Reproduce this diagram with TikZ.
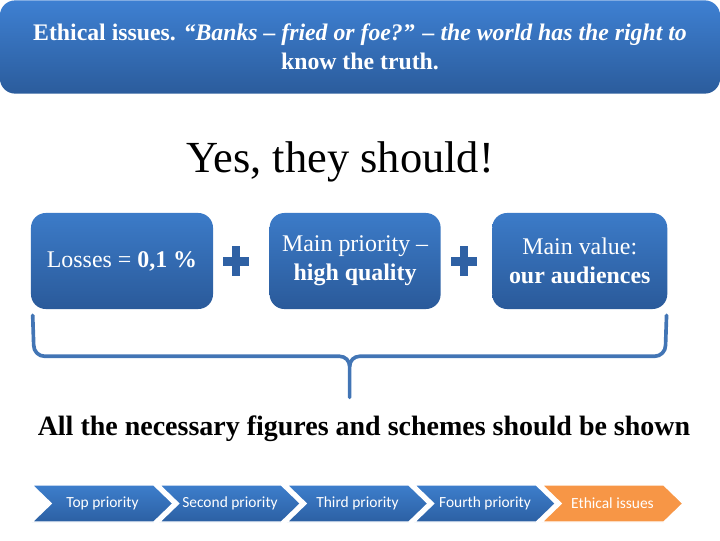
\documentclass[tikz,border=0pt]{standalone}
\usepackage{fontspec}
\setmainfont{Liberation Serif}
\newfontfamily\calibfont{Carlito}
\usetikzlibrary{positioning, calc, shapes.symbols}
\definecolor{BarTop}    {HTML}{3E80D2}
\definecolor{BarBot}    {HTML}{2B5C9C}
\definecolor{BoxTop}    {HTML}{3C7BC8}
\definecolor{BoxBot}    {HTML}{2A5A9A}
\definecolor{PlusBlue}  {HTML}{2F61A4}
\definecolor{BraceBlue} {HTML}{4275B5}
\definecolor{ChevTop}   {HTML}{3D7ECC}
\definecolor{ChevBot}   {HTML}{2C60A3}
\definecolor{ChevOrange}{HTML}{F79646}
\tikzset{
  every node/.style={inner sep=2pt},
  % title bar and the three value boxes
  banner/.style={rounded corners=0.38cm, top color=BarTop, bottom color=BarBot,
                 minimum width=18cm, minimum height=2.33cm, text=white, align=center,
                 font=\fontsize{16.9}{21}\selectfont\bfseries},
  valbox/.style={rounded corners=0.37cm, top color=BoxTop, bottom color=BoxBot,
                 minimum height=2.4cm, text=white, align=center,
                 font=\fontsize{17}{20.6}\selectfont},
  % priority chevrons
  chev/.style={signal, signal from=west, signal to=east, signal pointer angle=88,
               minimum width=3.525cm, minimum height=0.925cm, inner sep=0pt,
               draw=white, line width=1pt, text=white,
               font=\calibfont\fontsize{11}{13}\selectfont},
  chevblue/.style={chev, top color=ChevTop, bottom color=ChevBot},
  chevorange/.style={chev, fill=ChevOrange},
  bracepath/.style={draw=BraceBlue, line width=2.6pt, line cap=round, line join=round},
  plussign/.pic={
    \fill[PlusBlue] (-13,-4.5) rectangle (13,4.5);
    \fill[PlusBlue] (-4,-15) rectangle (4,15);
  },
}

\begin{document}
\begin{tikzpicture}[x=0.025cm, y=-0.025cm]
\useasboundingbox (0,0) rectangle (720,540);
\node[banner] (title) at (360,47)
  {Ethical issues. \itshape “Banks – fried or foe?” – the world has the right to\\know the truth.};
\node[font=\fontsize{31.6}{36}\selectfont, anchor=base] (yes) at (340,172) {Yes, they should!};

\node[valbox, minimum width=4.55cm] (b1) at (122,261) {Losses = \textbf{0,1 \%}};
\node[valbox, minimum width=4.275cm, right=1.4cm of b1] (b2) {Main priority –\\\textbf{high quality}};
\node[valbox, minimum width=4.375cm, right=1.275cm of b2] (b3) {Main value:\\\textbf{our audiences}};
\coordinate (p1) at ($(b1.east)!0.4!(b2.west)$);
\coordinate (p2) at ($(b2.east)!0.45!(b3.west)$);
\pic at (p1) {plussign};
\pic at (p2) {plussign};

% brace under the boxes
\coordinate (brL) at ($(b1.south west)+(2,6)$);
\coordinate (brR) at ($(b3.south east)+(-1,6)$);
\coordinate (brM) at ($(brL)!0.5!(brR)+(0,41)$);
\path[bracepath] (brL) -- ++(1,30) to[out=-90,in=180] ++(11,11) -- ($(brM)+(-10,0)$)
  to[out=0,in=90] ($(brM)+(0,10)$) -- ($(brM)+(0,41)$);
\path[bracepath] (brR) -- ++(-1,30) to[out=-90,in=0] ++(-11,11) -- ($(brM)+(10,0)$)
  to[out=180,in=90] ($(brM)+(0,10)$);

\node[font=\fontsize{19.9}{23}\selectfont\bfseries, anchor=base] (shown) at (364,435)
  {All the necessary figures and schemes should be shown};

\node[chevblue]   (c1) at (102.5,503.5) {Top priority};
\node[chevblue]   (c2) at (230,503.5)   {Second priority};
\node[chevblue]   (c3) at (357.5,503.5) {Third priority};
\node[chevblue]   (c4) at (485,503.5)   {Fourth priority};
\node[chevorange] (c5) at (612.5,503.5) {Ethical issues};
\end{tikzpicture}
\end{document}
